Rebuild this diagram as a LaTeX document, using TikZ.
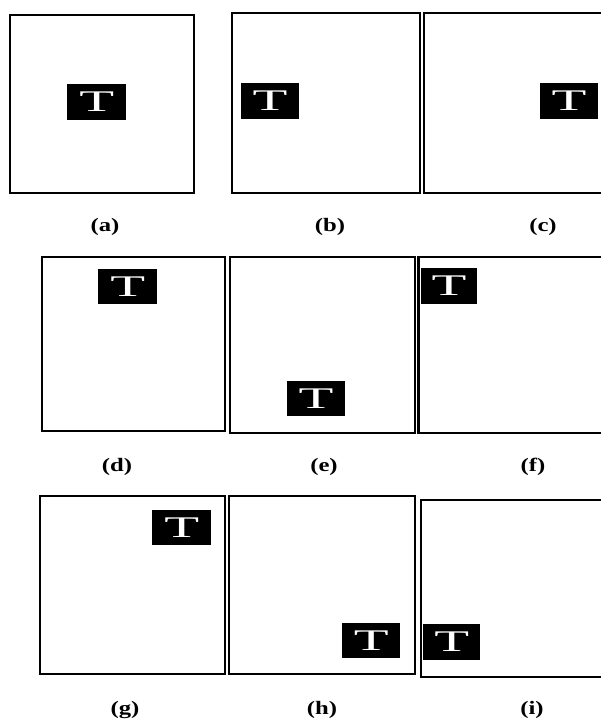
\documentclass[tikz,border=0pt]{standalone}
\usepackage{fontspec}
\setmainfont{Liberation Serif}
\begin{document}
\begin{tikzpicture}[x=1pt,y=-1pt,
  frame/.style={draw=black,line width=2.3pt},
  tbox/.style={fill=black,text=white,inner sep=0pt,minimum width=58.5pt,minimum height=35.5pt,font=\fontsize{30}{30}\selectfont},
  lbl/.style={font=\fontsize{19}{19}\selectfont\bfseries,inner sep=0pt}]
\useasboundingbox (0,0) rectangle (601,720);
\newcommand{\Tglyph}{\scalebox{1.9}[1]{T}}
\newcommand{\Lbl}[1]{\scalebox{1.3}[1]{#1}}
% frames
\draw[frame] (10,15) rectangle (194,193);
\draw[frame] (232,13) rectangle (420,193);
\draw[frame] (424,13) rectangle (604,193);
\draw[frame] (42,257) rectangle (225,431);
\draw[frame] (230,257) rectangle (415,433);
\draw[frame] (418.5,257) rectangle (604,433);
\draw[frame] (40,496) rectangle (225,674);
\draw[frame] (229,496) rectangle (415,674);
\draw[frame] (421,500) rectangle (604,677);
% T boxes
\node[tbox] (ta) at (96.7,102) {\Tglyph};
\node[tbox] (tb) at (270,101) {\Tglyph};
\node[tbox] (tc) at (569,101) {\Tglyph};
\node[tbox] (td) at (127.7,286.5) {\Tglyph};
\node[tbox] (te) at (316,398.5) {\Tglyph};
\node[tbox,minimum width=56pt] (tf) at (449,286) {\Tglyph};
\node[tbox] (tg) at (181.7,527.5) {\Tglyph};
\node[tbox] (th) at (371.2,640.5) {\Tglyph};
\node[tbox,minimum width=56.5pt] (ti) at (451.7,642) {\Tglyph};
% labels
\node[lbl] (la) at (105,227) {\Lbl{(a)}};
\node[lbl] (lb) at (330,227) {\Lbl{(b)}};
\node[lbl] (lc) at (543,227) {\Lbl{(c)}};
\node[lbl] (ld) at (117,467) {\Lbl{(d)}};
\node[lbl] (le) at (324,467) {\Lbl{(e)}};
\node[lbl] (lf) at (533,467) {\Lbl{(f)}};
\node[lbl] (lg) at (125,710) {\Lbl{(g)}};
\node[lbl] (lh) at (322,710) {\Lbl{(h)}};
\node[lbl] (li) at (532,710) {\Lbl{(i)}};
\end{tikzpicture}
\end{document}
